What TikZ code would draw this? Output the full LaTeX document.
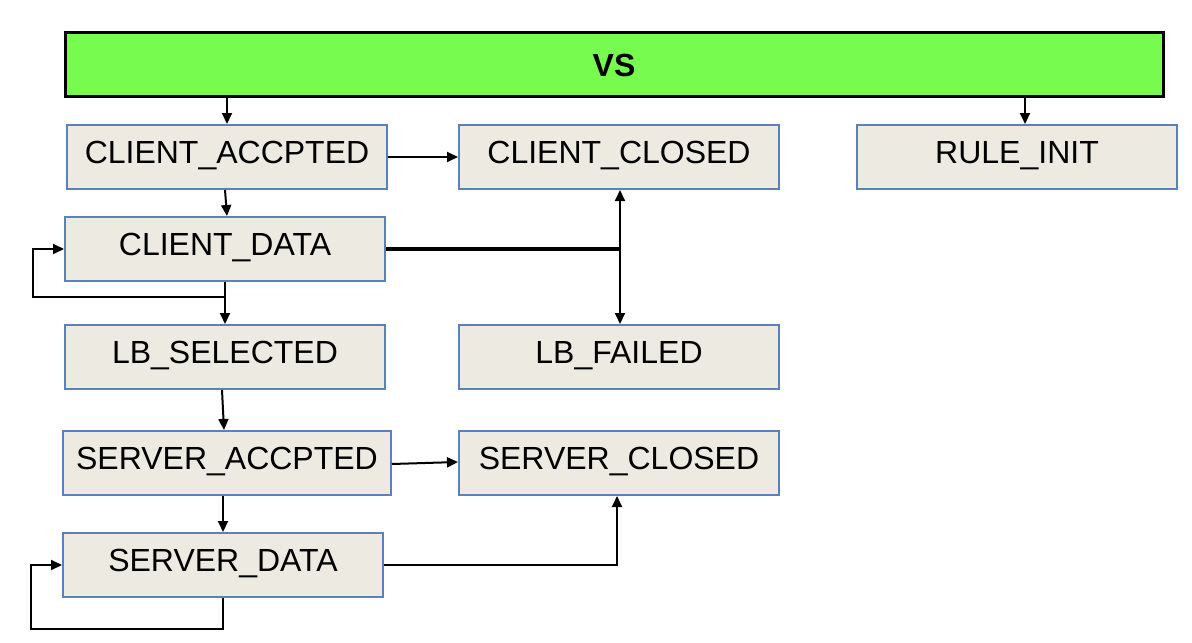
\documentclass[tikz,border=0pt]{standalone}
\usepackage{fontspec}
\setmainfont{Liberation Sans}
\usetikzlibrary{arrows.meta,calc}
\definecolor{boxfill}{HTML}{ECEAE1}
\definecolor{boxline}{HTML}{5B81BA}
\definecolor{vsgreen}{HTML}{76FB4E}
\newcommand{\evtext}[1]{\raisebox{5pt}{#1}}
\begin{document}
\begin{tikzpicture}[x=0.5pt,y=-0.5pt,
  evbox/.style={draw=boxline, fill=boxfill, line width=1pt, rectangle,
    minimum width=160pt, minimum height=32pt, inner sep=0pt,
    font=\fontsize{16}{19}\selectfont},
  vsbox/.style={draw=black, fill=vsgreen, line width=1.5pt, rectangle,
    minimum width=549pt, minimum height=32pt, inner sep=0pt,
    font=\fontsize{16}{19}\selectfont\bfseries},
  arr/.style={line width=1pt, -{Triangle[length=5.5pt,width=5pt]}},
  darr/.style={line width=1pt, {Triangle[length=5.5pt,width=5pt]}-{Triangle[length=5.5pt,width=5pt]}},
  heavy/.style={line width=1.6pt}]
\useasboundingbox (0,0) rectangle (1192,642);
\node[vsbox] (vs) at (614,65) {VS};
\node[evbox] (ca) at (227,157) {\evtext{CLIENT\_ACCPTED}};
\node[evbox] (cc) at (619,157) {\evtext{CLIENT\_CLOSED}};
\node[evbox] (ri) at (1017,157) {\evtext{RULE\_INIT}};
\node[evbox] (cd) at (225,249) {\evtext{CLIENT\_DATA}};
\node[evbox] (lbs) at (225,357) {\evtext{LB\_SELECTED}};
\node[evbox] (lbf) at (619,357) {\evtext{LB\_FAILED}};
\node[evbox, minimum width=164pt] (sa) at (227,463) {\evtext{SERVER\_ACCPTED}};
\node[evbox] (sc) at (619,463) {\evtext{SERVER\_CLOSED}};
\node[evbox] (sd) at (223,565) {\evtext{SERVER\_DATA}};
% connectors
\draw[arr] (ca.north |- vs.south) -- (ca.north);
\draw[arr] ($(ri.north |- vs.south)+(8,0)$) -- ($(ri.north)+(8,0)$);
\draw[arr] (ca.east) -- (cc.west);
\draw[arr] ($(ca.south)+(-2,0)$) -- ($(cd.north)+(2,0)$);
\draw[arr] (cd.south) -- ++(0,15) -- ++(-192,0) |- (cd.west);
\draw[arr] (cd.south) -- (lbs.north);
\draw[heavy] (cd.east) -- ($(cd.east -| cc.south)+(1,0)$);
\draw[darr] ($(cc.south)+(1,0)$) -- ($(lbf.north)+(1,0)$);
\draw[arr] ($(lbs.south)+(-3,0)$) -- ($(sa.north)+(-3,0)$);
\draw[arr] ($(sa.east)+(0,1)$) -- ($(sc.west)+(0,-1)$);
\draw[arr] ($(sa.south)+(-4,0)$) -- (sd.north);
\draw[arr] (sd.south) -- ++(0,31) -- ++(-192,0) |- (sd.west);
\draw[arr] (sd.east) -| ($(sc.south)+(-2,0)$);
\end{tikzpicture}
\end{document}
